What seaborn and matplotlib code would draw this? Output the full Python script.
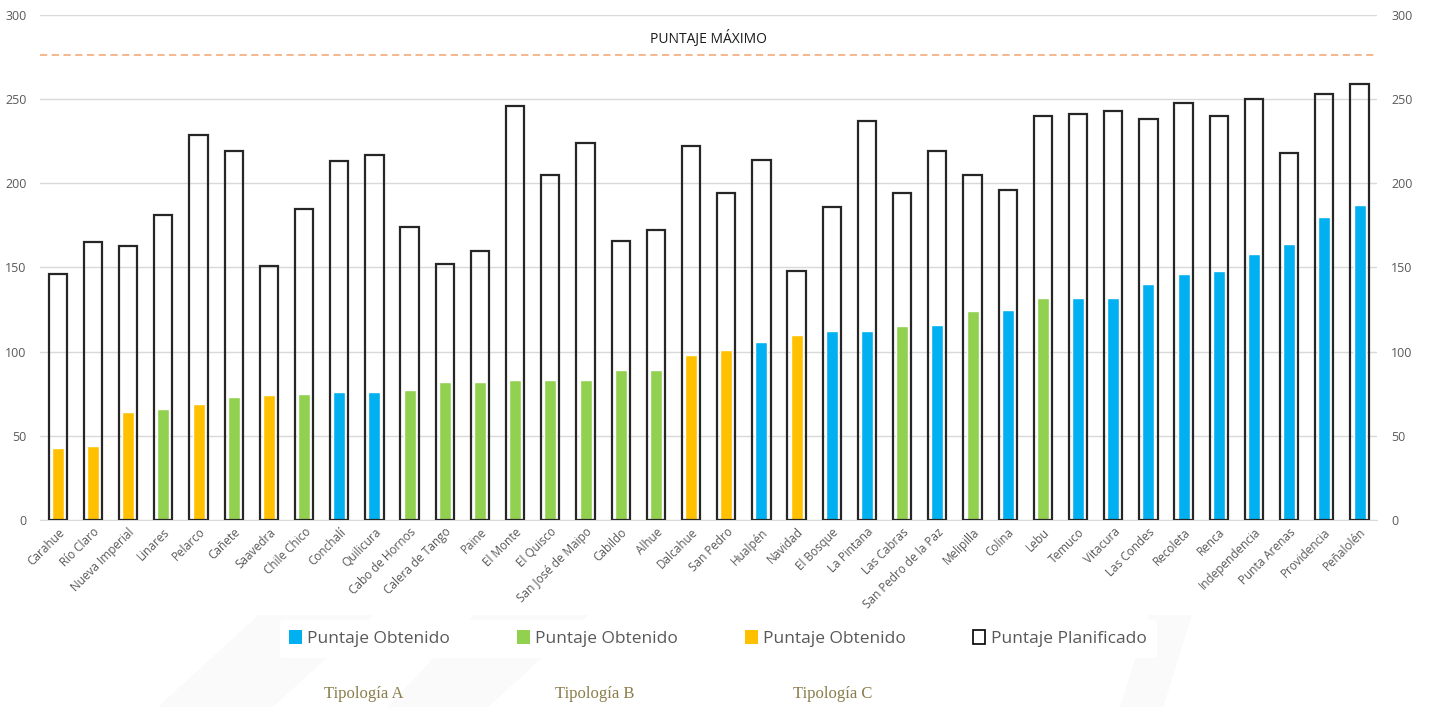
import pandas as pd
import numpy as np
import matplotlib.pyplot as plt
from matplotlib.patches import Patch, Polygon
import seaborn as sns

# comunas ordered by obtained score
comunas = ['Carahue', 'Río Claro', 'Nueva Imperial', 'Linares', 'Pelarco', 'Cañete',
           'Saavedra', 'Chile Chico', 'Conchalí', 'Quilicura', 'Cabo de Hornos',
           'Calera de Tango', 'Paine', 'El Monte', 'El Quisco', 'San José de Maipo',
           'Cabildo', 'Alhue', 'Dalcahue', 'San Pedro', 'Hualpén', 'Navidad',
           'El Bosque', 'La Pintana', 'Las Cabras', 'San Pedro de la Paz', 'Melipilla',
           'Colina', 'Lebu', 'Temuco', 'Vitacura', 'Las Condes', 'Recoleta', 'Renca',
           'Independencia', 'Punta Arenas', 'Providencia', 'Peñalolén']
planificado = [146, 165, 163, 181, 229, 219, 151, 185, 213, 217, 174, 152, 160, 246,
               205, 224, 166, 172, 222, 194, 214, 148, 186, 237, 194, 219, 205, 196,
               240, 241, 243, 238, 248, 240, 250, 218, 253, 259]
obtenido = [43, 44, 64, 66, 69, 73, 74, 75, 76, 76, 77, 82, 82, 83, 83, 83, 89, 89,
            98, 101, 106, 110, 112, 112, 115, 116, 124, 125, 132, 132, 132, 140, 146,
            148, 158, 164, 180, 187]
tipologia = ['C', 'C', 'C', 'B', 'C', 'B', 'C', 'B', 'A', 'A', 'B', 'B', 'B', 'B',
             'B', 'B', 'B', 'B', 'C', 'C', 'A', 'C', 'A', 'A', 'B', 'A', 'B', 'A',
             'B', 'A', 'A', 'A', 'A', 'A', 'A', 'A', 'A', 'A']
puntaje_maximo = 276

colores = {'A': '#00B0F0', 'B': '#92D050', 'C': '#FFC000'}

df = pd.DataFrame({'Comuna': comunas, 'Planificado': planificado,
                   'Obtenido': obtenido, 'Tipo': tipologia})

sns.set_style('white')
plt.rcParams['font.family'] = ['Open Sans', 'DejaVu Sans']

fig = plt.figure(figsize=(14.36, 7.07), dpi=100)

# faint watermark shapes behind legend
for pts in [[(0.11, 0.0), (0.19, 0.0), (0.26, 0.13), (0.18, 0.13)],
            [(0.27, 0.0), (0.34, 0.0), (0.41, 0.13), (0.33, 0.13)],
            [(0.78, 0.0), (0.81, 0.0), (0.83, 0.13), (0.8, 0.13)]]:
    fig.add_artist(Polygon(pts, closed=True, transform=fig.transFigure,
                           facecolor='#FAFAFA', edgecolor='none', zorder=0))

ax = fig.add_axes([0.028, 0.2645, 0.931, 0.7143])

sns.barplot(data=df, x='Comuna', y='Planificado', fill=False, color='#000000',
            linewidth=1.6, width=0.52, ax=ax, errorbar=None, zorder=3)
for p in ax.patches:
    p.set_edgecolor('#262626')
sns.barplot(data=df, x='Comuna', y='Obtenido', hue='Tipo', palette=colores,
            dodge=False, width=0.34, ax=ax, errorbar=None, legend=False,
            saturation=1, zorder=2)

ax.set_ylim(0, 300)
ax.set_xlim(-0.5, len(comunas) - 0.5)
ax.set_yticks(range(0, 301, 50))
ax.grid(axis='y', color='#D9D9D9', linewidth=1)
ax.set_axisbelow(True)
for s in ['top', 'left', 'right']:
    ax.spines[s].set_visible(False)
ax.spines['bottom'].set_color('#D9D9D9')
ax.set_xlabel('')
ax.set_ylabel('')

ax.tick_params(axis='y', length=0, labelsize=9, labelcolor='#595959', pad=10)
ax.set_xticks(range(len(comunas)))
ax.set_xticklabels(comunas, rotation=45, ha='right', rotation_mode='anchor',
                   fontsize=8.5, color='#595959')
ax.tick_params(axis='x', length=0, pad=4)
# minor ticks between categories
ax.set_xticks(np.arange(-0.5, len(comunas), 1), minor=True)
ax.tick_params(axis='x', which='minor', length=4, color='#D9D9D9')

ax2 = ax.twinx()
ax2.set_ylim(0, 300)
ax2.set_yticks(range(0, 301, 50))
ax2.tick_params(axis='y', length=0, labelsize=9, labelcolor='#595959', pad=10)
for s in ax2.spines.values():
    s.set_visible(False)

# maximum score line
ax.axhline(puntaje_maximo, color='#F4B183', linestyle=(0, (4, 2.5)), linewidth=1.3, zorder=1)
ax.text((len(comunas) - 1) / 2, 286, 'PUNTAJE MÁXIMO', ha='center', va='center',
        fontsize=10, color='#1A1A1A')

# legend
handles = [Patch(facecolor=colores['A'], edgecolor='none', label='Puntaje Obtenido'),
           Patch(facecolor=colores['B'], edgecolor='none', label='Puntaje Obtenido'),
           Patch(facecolor=colores['C'], edgecolor='none', label='Puntaje Obtenido'),
           Patch(facecolor='white', edgecolor='#000000', linewidth=1.2,
                 label='Puntaje Planificado')]
leg = fig.legend(handles=handles, loc='center', bbox_to_anchor=(0.5, 0.097), ncol=4,
                 frameon=True, fontsize=12.5, handlelength=0.7, handleheight=0.9,
                 handletextpad=0.3, columnspacing=3.9, borderpad=0.55)
leg.get_frame().set_edgecolor('white')
leg.get_frame().set_facecolor('white')
leg.get_frame().set_alpha(1)
for t in leg.get_texts():
    t.set_color('#595959')

for x, lab in [(0.253, 'Tipología A'), (0.414, 'Tipología B'), (0.58, 'Tipología C')]:
    fig.text(x, 0.018, lab, ha='center', va='center', fontsize=12,
             family='Liberation Serif', color='#8B7D4B')

plt.savefig('out.png', dpi=100)
